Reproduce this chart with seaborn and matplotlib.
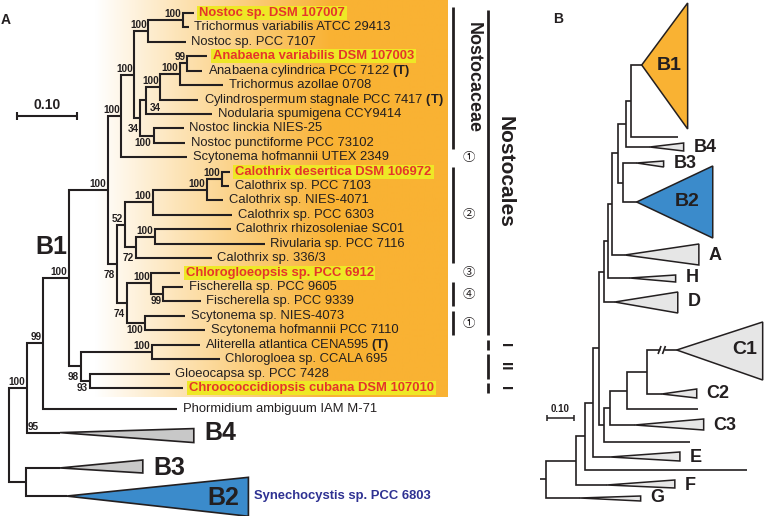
import numpy as np
import pandas as pd
import matplotlib
matplotlib.use("Agg")
import matplotlib.pyplot as plt
from matplotlib.colors import to_rgb
from matplotlib.patches import Rectangle
import seaborn as sns

# ---------------------------------------------------------------
# Panel A - tree of Nostocales (branch lengths in subst./site)
# nodes are listed parent-first, leaves top to bottom
# ---------------------------------------------------------------
a_node = [
    "root", "n1", "n2", "b1", "n4", "n5", "n6", "n7", "n8",
    "Nostoc sp. DSM 107007", "Trichormus variabilis ATCC 29413", "Nostoc sp. PCC 7107",
    "n9", "n10", "n11", "n12", "n13",
    "Anabaena variabilis DSM 107003", "Anabaena cylindrica PCC 7122 (T)",
    "Trichormus azollae 0708", "Cylindrospermum stagnale PCC 7417 (T)",
    "Nodularia spumigena CCY9414",
    "n14", "Nostoc linckia NIES-25", "Nostoc punctiforme PCC 73102",
    "Scytonema hofmannii UTEX 2349",
    "n15", "n16", "n17", "n18", "n19",
    "Calothrix desertica DSM 106972", "Calothrix sp. PCC 7103",
    "Calothrix sp. NIES-4071", "Calothrix sp. PCC 6303",
    "n20", "n21", "Calothrix rhizosoleniae SC01", "Rivularia sp. PCC 7116",
    "Calothrix sp. 336/3",
    "n22", "n23", "Chlorogloeopsis sp. PCC 6912", "n24",
    "Fischerella sp. PCC 9605", "Fischerella sp. PCC 9339",
    "n25", "Scytonema sp. NIES-4073", "Scytonema hofmannii PCC 7110",
    "n26", "n27", "Aliterella atlantica CENA595 (T)", "Chlorogloea sp. CCALA 695",
    "n28", "Gloeocapsa sp. PCC 7428", "Chroococcidiopsis cubana DSM 107010",
    "Phormidium ambiguum IAM M-71", "B4", "n29", "B3", "B2",
]
a_parent = [
    None, "root", "n1", "n2", "b1", "n4", "n5", "n6", "n7",
    "n8", "n8", "n7",
    "n6", "n9", "n10", "n11", "n12",
    "n13", "n13",
    "n12", "n11",
    "n10",
    "n9", "n14", "n14",
    "n5",
    "n4", "n15", "n16", "n17", "n18",
    "n19", "n19",
    "n18", "n17",
    "n16", "n20", "n21", "n21",
    "n20",
    "n15", "n22", "n23", "n23",
    "n24", "n24",
    "n22", "n25", "n25",
    "b1", "n26", "n27", "n27",
    "n26", "n28", "n28",
    "n2", "n1", "root", "n29", "n29",
]
a_len = [
    0.0, 0.030, 0.027, 0.043, 0.065, 0.022, 0.022, 0.023, 0.058,
    0.018, 0.010, 0.063,
    0.010, 0.010, 0.023, 0.033, 0.012,
    0.033, 0.025,
    0.072, 0.063,
    0.110,
    0.022, 0.050, 0.053,
    0.110,
    0.015, 0.013, 0.047, 0.090, 0.025,
    0.013, 0.012,
    0.027, 0.132,
    0.018, 0.032, 0.127, 0.183,
    0.127,
    0.017, 0.040, 0.048, 0.020,
    0.033, 0.063,
    0.030, 0.067, 0.100,
    0.020, 0.118, 0.080, 0.113,
    0.015, 0.133, 0.155,
    0.223, 0.055, 0.028, 0.057, 0.068,
]
a_boot = [
    None, 100, 99, 100, 100, 100, 100, 100, 100,
    None, None, None,
    34, 34, 100, 100, 99,
    None, None,
    None, None,
    None,
    100, None, None,
    None,
    78, 52, 100, 100, 100,
    None, None,
    None, None,
    72, 100, None, None,
    None,
    74, 100, None, 99,
    None, None,
    100, None, None,
    98, 100, None, None,
    93, None, None,
    None, 95, None, None, None,
]

# collapsed clades of panel A: triangle depth, upper / lower extent (rows)
a_clade = ["B4", "B3", "B2"]
a_clade_depth = [0.223, 0.138, 0.303]
a_clade_up = [0.28, 0.55, 1.30]
a_clade_down = [0.69, 0.35, 1.40]

# newly described strains
a_highlight = [
    "Nostoc sp. DSM 107007", "Anabaena variabilis DSM 107003",
    "Calothrix desertica DSM 106972", "Chlorogloeopsis sp. PCC 6912",
    "Chroococcidiopsis cubana DSM 107010",
]

# right-hand annotations (tip index ranges)
circ_label = ["\u2460", "\u2461", "\u2462", "\u2463", "\u2460"]
circ_first = [10, 11, 18, 19, 21]
circ_last = [10, 17, 18, 20, 22]
family_label, family_first, family_last = "Nostocaceae", 0, 9
order_label, order_first, order_last = "Nostocales", 0, 22
sub_label = ["I", "II", "I"]
sub_first = [23, 24, 26]
sub_last = [23, 25, 26]

# ---------------------------------------------------------------
# Panel B - overview tree with collapsed clades
# ---------------------------------------------------------------
b_node = ["root", "p1", "p2", "p3", "p4", "u", "v", "q5", "q3", "q2", "q1",
          "B1", "l2", "B4", "q4", "B3", "B2", "A", "H", "D",
          "cg", "cg2", "cg3", "cg4", "C1", "C2", "l4", "C3", "l3",
          "E", "l1", "F", "G"]
b_parent = [None, "root", "p1", "p2", "p3", "p4", "u", "v", "q5", "q3", "q2",
            "q1", "q1", "q2", "q3", "q4", "q4", "q5", "v", "u",
            "p4", "cg", "cg2", "cg3", "cg4", "cg4", "cg3", "cg2", "cg",
            "p3", "p2", "p1", "root"]
b_len = [0.022, 0.112, 0.034, 0.030, 0.022, 0.019, 0.015, 0.015, 0.022, 0.030, 0.019,
         0.041, 0.176, 0.090, 0.019, 0.052, 0.052, 0.049, 0.082, 0.041,
         0.019, 0.022, 0.064, 0.075, 0.112, 0.056, 0.266, 0.094, 0.322,
         0.064, 0.607, 0.116, 0.127]
b_clade = ["B1", "B4", "B3", "B2", "A", "H", "D", "C1", "C2", "C3", "E", "F", "G"]
b_clade_depth = [0.172, 0.127, 0.101, 0.285, 0.277, 0.172, 0.236, 0.322, 0.131,
                 0.258, 0.262, 0.255, 0.228]
b_clade_up = [62, 4, 2, 36, 11, 3, 10, 28, 5, 6, 5, 5, 2]
b_clade_down = [64, 4, 4, 36, 10, 4, 11, 30, 4, 5, 4, 3, 3]
b_clade_color = ["#F9B233", "#E6E6E6", "#E6E6E6", "#3B8BCB", "#E6E6E6", "#E6E6E6",
                 "#E6E6E6", "#E6E6E6", "#E6E6E6", "#E6E6E6", "#E6E6E6", "#E6E6E6",
                 "#E6E6E6"]

# ---------------------------------------------------------------
# layout / style
# ---------------------------------------------------------------
INK = "#231F20"
ORANGE = "#F9B233"
BLUE = "#3B8BCB"
YELLOW = "#EEE826"
RED = "#E5352B"
NAVY = "#2E3192"
PT = 0.72  # points per pixel at 100 dpi

A_PX, A_ROW = 600.0, 14.42   # px per unit, px per row
B_PX = 267.0
A_ROWS = list(range(27)) + [27.45, 29.1, 31.55, 33.5]
B_Y = [65, 137, 147, 163, 202, 255, 278, 302, 350, 394, 409, 425, 442, 457, 470, 485, 498]
BOOT_POS = {"n9": "b", "n10": "rb", "n14": "b", "n15": "b", "n20": "b", "n22": "b",
            "n24": "b", "n25": "b", "n26": "b", "n28": "b", "B4": "r"}


def layout(nodes, parents, lens, leaf_pos):
    x, kids = {}, {n: [] for n in nodes}
    for n, p, l in zip(nodes, parents, lens):
        x[n] = (x[p] if p else 0.0) + l
        if p:
            kids[p].append(n)
    leaves = [n for n in nodes if not kids[n]]
    y = dict(zip(leaves, leaf_pos))

    def place(n):
        if n not in y:
            ys = [place(c) for c in kids[n]]
            y[n] = (min(ys) + max(ys)) / 2
        return y[n]

    place(nodes[0])
    return x, y, kids, leaves


def draw_branches(ax, nodes, parents, x, y, lw):
    rows = []
    for i, (n, p) in enumerate(zip(nodes, parents)):
        if p is None:
            pts = [(0.0, y[n]), (x[n], y[n])] if x[n] > 0 else []
        else:
            pts = [(x[p], y[p]), (x[p], y[n]), (x[n], y[n])]
        rows += [{"x": a, "y": b, "edge": i} for a, b in pts]
    df = pd.DataFrame(rows)
    sns.lineplot(data=df, x="x", y="y", units="edge", estimator=None, sort=False,
                 color=INK, linewidth=lw, ax=ax, legend=False)


def draw_triangles(ax, x, y, names, depth, up, down, colors, lw):
    for n, d, u, w, c in zip(names, depth, up, down, colors):
        x0 = x[n]
        ax.fill([x0, x0 + d, x0 + d], [y[n], y[n] - u, y[n] + w], facecolor=c,
                edgecolor=INK, linewidth=lw, joinstyle="miter", zorder=2)


sns.set_theme(style="white")
plt.rcParams["font.family"] = ["Liberation Sans", "DejaVu Sans"]
plt.rcParams["mathtext.fontset"] = "custom"
plt.rcParams["mathtext.rm"] = "Liberation Sans"
plt.rcParams["mathtext.bf"] = "Liberation Sans:bold"
plt.rcParams["lines.solid_capstyle"] = "butt"
plt.rcParams["lines.solid_joinstyle"] = "miter"

fig = plt.figure(figsize=(7.65, 5.16), dpi=100)
fig.patch.set_facecolor("white")
axA = fig.add_axes([0, 0, 540 / 765, 1])
axB = fig.add_axes([540 / 765, 0, 225 / 765, 1])

# ---------------- panel A ----------------
ax_x, ax_y, a_kids, a_leaves = layout(a_node, a_parent, a_len, A_ROWS)

# orange shading behind the Nostocales part
gx = np.linspace(0, 1, 400)
t = np.clip(gx / 0.67, 0, 1)
img = np.ones((1, 400, 3))
img[0] = (1 - t)[:, None] + t[:, None] * np.array(to_rgb(ORANGE))
axA.imshow(img, extent=[(95 - 9) / A_PX, (448 - 9) / A_PX, 26.63, -0.95],
           aspect="auto", zorder=0, interpolation="bilinear")

draw_branches(axA, a_node, a_parent, ax_x, ax_y, 1.5)
a_grey = ["#C8C8C8", "#C8C8C8", BLUE]
draw_triangles(axA, ax_x, ax_y, a_clade, a_clade_depth, a_clade_up, a_clade_down,
               a_grey, 1.2)

# tip labels
hl_texts = []
for n in a_leaves:
    if n in a_clade:
        continue
    label = n.replace(" (T)", r" $\mathbf{(T)}$")
    if n in a_highlight:
        tx = axA.annotate(label, (ax_x[n], ax_y[n]), xytext=(5.5 * PT, 0),
                          textcoords="offset points", ha="left", va="center",
                          fontsize=9.4, fontweight="bold", color=RED, zorder=4)
        hl_texts.append((tx, ax_y[n]))
    else:
        axA.annotate(label, (ax_x[n], ax_y[n]), xytext=(5.5 * PT, 0),
                     textcoords="offset points", ha="left", va="center",
                     fontsize=9.4, color=INK, zorder=4)

# bootstrap support
bkw = dict(textcoords="offset points", fontsize=7.2, fontweight="bold", color=INK, zorder=4)
for n, p, b in zip(a_node, a_parent, a_boot):
    if b is None:
        continue
    mode = BOOT_POS.get(n, "a")
    if mode == "a":
        axA.annotate(str(b), (ax_x[n], ax_y[n]), xytext=(-1.5 * PT, 1 * PT),
                     ha="right", va="bottom", **bkw)
    elif mode == "b":
        yl = min(ax_y[n] + 11 / A_ROW, max(ax_y[c] for c in a_kids[n]))
        axA.annotate(str(b), (ax_x[n], yl), xytext=(-2 * PT, 0),
                     ha="right", va="center", **bkw)
    elif mode == "rb":
        yl = max(ax_y[c] for c in a_kids[n])
        axA.annotate(str(b), (ax_x[n], yl), xytext=(3 * PT, 1 * PT),
                     ha="left", va="bottom", **bkw)
    else:
        axA.annotate(str(b), (ax_x[p], ax_y[n]), xytext=(1 * PT, 1 * PT),
                     ha="left", va="bottom", **bkw)

# clade names
big = dict(textcoords="offset points", fontsize=18, fontweight="bold", color=INK, zorder=4)
axA.annotate("B1", (ax_x["b1"], ax_y["b1"]), xytext=(-2 * PT, 31 * PT),
             ha="right", va="center", **big)
for n, d in zip(a_clade, a_clade_depth):
    xr = ax_x[n] + d
    if n == "B2":
        axA.annotate(n, (xr, ax_y[n]), xytext=(-9 * PT, -1.5 * PT),
                     ha="right", va="center", **big)
        axA.annotate("Synechocystis sp. PCC 6803", (xr, ax_y[n]), xytext=(6 * PT, 0),
                     textcoords="offset points", ha="left", va="center",
                     fontsize=9.4, fontweight="bold", color=NAVY)
    else:
        axA.annotate(n, (xr, ax_y[n]), xytext=(11 * PT, 0), ha="left", va="center", **big)

# taxonomy brackets on the right
x_bar1, x_circ = (453 - 9) / A_PX, (469 - 9) / A_PX
x_bar2, x_txt2 = (488 - 9) / A_PX, (505 - 9) / A_PX
axA.plot([x_bar1, x_bar1], [family_first - 0.42, family_last + 0.4], color=INK, lw=2)
axA.text((473 - 9) / A_PX, (family_first + family_last) / 2, family_label, rotation=-90,
         ha="center", va="center", fontsize=13, fontweight="bold", color=INK)
for lab, f, l in zip(circ_label, circ_first, circ_last):
    if l > f:
        axA.plot([x_bar1, x_bar1], [f - 0.35, l + 0.35], color=INK, lw=2)
    axA.text(x_circ, (f + l) / 2, lab, ha="center", va="center", fontsize=9,
             family=["Noto Sans CJK JP", "DejaVu Sans"], color=INK)
axA.plot([x_bar2, x_bar2], [order_first - 0.2, order_last + 0.35], color=INK, lw=2)
axA.text(x_txt2, (order_first + order_last) / 2, order_label, rotation=-90,
         ha="center", va="center", fontsize=15, fontweight="bold", color=INK)
for lab, f, l in zip(sub_label, sub_first, sub_last):
    axA.plot([x_bar2, x_bar2], [f - 0.35, l + 0.35], color=INK, lw=2)
    axA.text(x_txt2, (f + l) / 2, lab, rotation=-90, ha="center", va="center",
             fontsize=11, fontweight="bold", color=INK)

# scale bar A
sx0, sy = (17 - 9) / A_PX, (116 - 13) / A_ROW
axA.plot([sx0, sx0 + 0.10], [sy, sy], color=INK, lw=1.5)
for xe in (sx0, sx0 + 0.10):
    axA.plot([xe, xe], [sy - 0.25, sy + 0.25], color=INK, lw=1.5)
axA.text(sx0 + 0.05, sy - 0.3, "0.10", ha="center", va="bottom", fontsize=10,
         fontweight="bold", color=INK)

axA.set_xlim(-9 / A_PX, 531 / A_PX)
axA.set_ylim((516 - 13) / A_ROW, -13 / A_ROW)
axA.axis("off")

# ---------------- panel B ----------------
bx, by, b_kids, b_leaves = layout(b_node, b_parent, b_len, B_Y)
draw_branches(axB, b_node, b_parent, bx, by, 1.2)
draw_triangles(axB, bx, by, b_clade, b_clade_depth, b_clade_up, b_clade_down,
               b_clade_color, 1.1)

inside = {"B1": -6, "B2": -13, "C1": -6}
for n, d in zip(b_clade, b_clade_depth):
    xr = bx[n] + d
    if n in inside:
        axB.annotate(n, (xr, by[n]), xytext=(inside[n] * PT, 0), textcoords="offset points",
                     ha="right", va="center", fontsize=14, fontweight="bold", color=INK)
    else:
        axB.annotate(n, (xr, by[n]), xytext=(10 * PT, 0), textcoords="offset points",
                     ha="left", va="center", fontsize=13, fontweight="bold", color=INK)

# break on the C1 stem
xm = (bx["cg4"] + bx["C1"]) / 2
yc = by["C1"]
axB.plot([xm - 2 / B_PX, xm + 2 / B_PX], [yc, yc], color="white", lw=2.5, zorder=3)
for dx in (-2.2, 2.2):
    axB.plot([xm + (dx - 1.5) / B_PX, xm + (dx + 1.5) / B_PX], [yc + 4, yc - 4],
             color=INK, lw=1.2, zorder=4)

# scale bar B
bsx = (547 - 540) / B_PX
axB.plot([bsx, bsx + 0.10], [418, 418], color=INK, lw=1.1)
for xe in (bsx, bsx + 0.10):
    axB.plot([xe, xe], [415, 421], color=INK, lw=1.1)
axB.text(bsx + 0.05, 414, "0.10", ha="center", va="bottom", fontsize=7,
         fontweight="bold", color=INK)

axB.set_xlim(0, 225 / B_PX)
axB.set_ylim(516, 0)
axB.axis("off")

# panel letters
fig.text(1 / 765, 1 - 20 / 516, "A", ha="left", va="center", fontsize=10,
         fontweight="bold", color=INK)
fig.text(553 / 765, 1 - 19 / 516, "B", ha="left", va="center", fontsize=10,
         fontweight="bold", color=INK)

# yellow boxes behind the highlighted strains
fig.canvas.draw()
rend = fig.canvas.get_renderer()
inv = axA.transData.inverted()
for tx, row in hl_texts:
    bb = tx.get_window_extent(rend)
    x0 = inv.transform((bb.x0 - 2, 0))[0]
    x1 = inv.transform((bb.x1 + 2, 0))[0]
    axA.add_patch(Rectangle((x0, row - 7 / A_ROW), x1 - x0, 14 / A_ROW,
                            facecolor=YELLOW, edgecolor="none", zorder=3))

fig.savefig("out.png", dpi=100, facecolor="white")
